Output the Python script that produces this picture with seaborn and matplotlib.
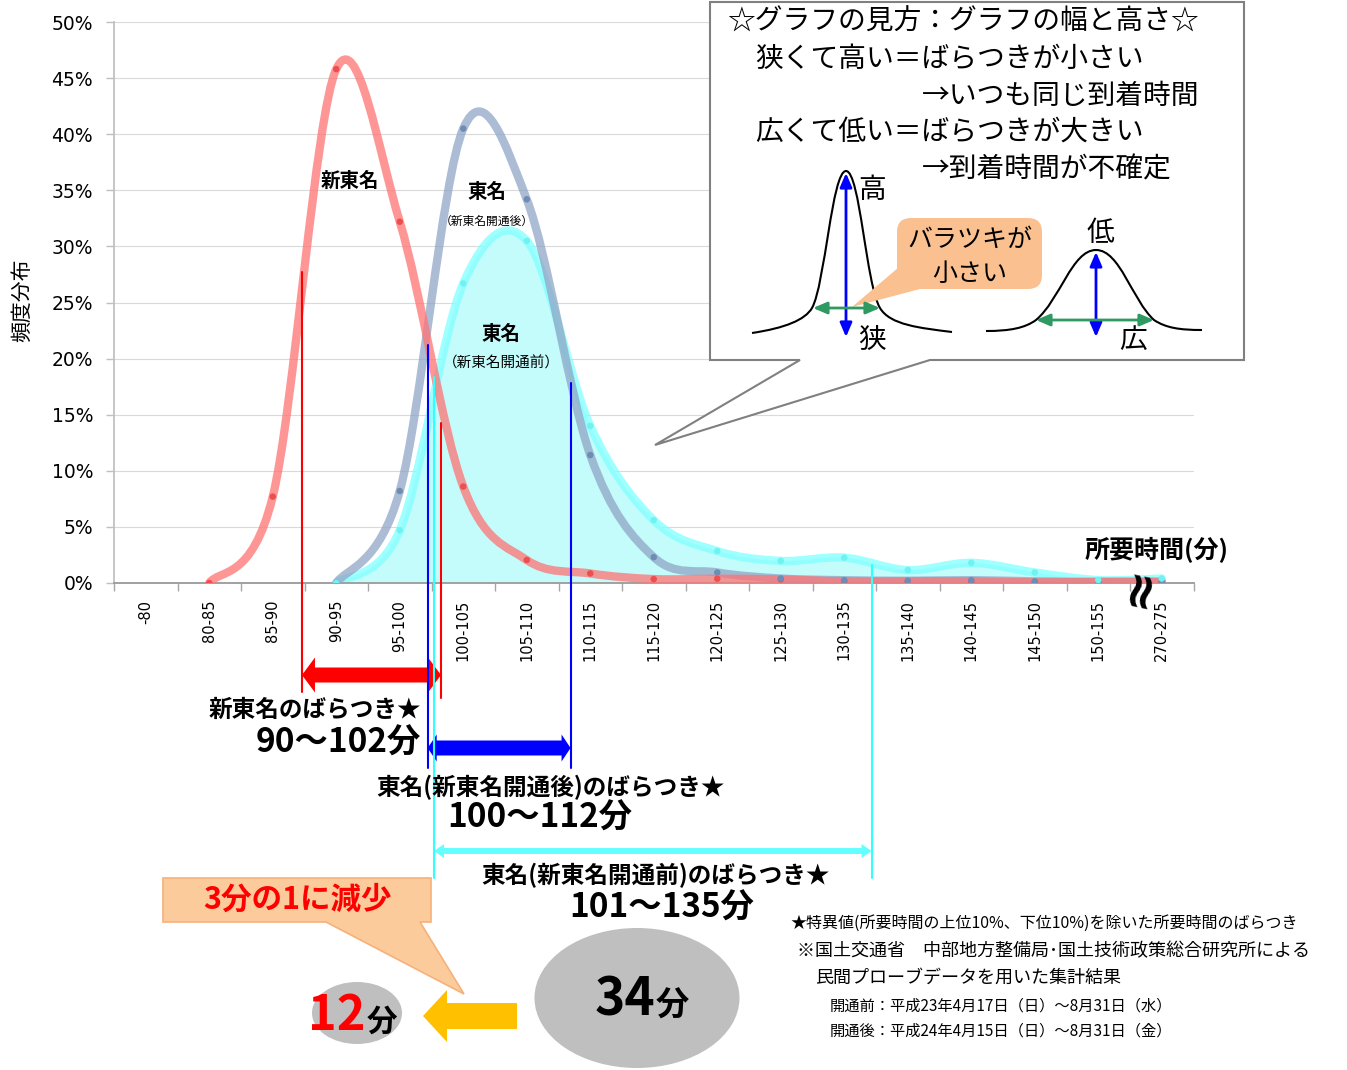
import numpy as np
import pandas as pd
import seaborn as sns
import matplotlib
matplotlib.use("Agg")
import matplotlib.pyplot as plt
from matplotlib.path import Path
from matplotlib.patches import PathPatch, Polygon, Ellipse, FancyBboxPatch
from matplotlib.ticker import PercentFormatter

# travel time frequency distribution (% of trips per 5 minute bin)
categories = ["-80", "80-85", "85-90", "90-95", "95-100", "100-105", "105-110",
              "110-115", "115-120", "120-125", "125-130", "130-135", "135-140",
              "140-145", "145-150", "150-155", "270-275"]
shin_tomei = [np.nan, 0.0, 7.7, 45.8, 32.2, 8.6, 2.05, 0.85, 0.35, 0.38, 0.32,
              0.15, 0.15, 0.15, 0.06, 0.10, 0.12]
tomei_after = [np.nan, np.nan, np.nan, 0.0, 8.2, 40.5, 34.2, 11.4, 2.3, 0.94,
               0.40, 0.25, 0.20, 0.25, 0.15, 0.10, 0.10]
tomei_before = [np.nan, np.nan, np.nan, 0.0, 4.7, 26.7, 30.5, 14.0, 5.6, 2.85,
                1.97, 2.26, 1.15, 1.80, 0.94, 0.26, 0.40]

# spread markers (category units) and the curve height where each line starts
spread_red = [2.46, 4.65]
spread_red_top = [27.7, 14.3]
spread_blue = [4.44, 6.69]
spread_blue_top = [21.2, 17.8]
spread_cyan = [4.54, 11.43]
spread_cyan_top = [18.4, 1.6]

JP = ["Noto Sans CJK JP", "DejaVu Sans"]
W, H = 1347, 1070

sns.set_theme(style="white")
plt.rcParams["font.family"] = ["DejaVu Sans", "Noto Sans CJK JP"]
plt.rcParams["text.color"] = "black"

fig = plt.figure(figsize=(W / 100, H / 100), dpi=100)
ax = fig.add_axes([114 / W, 1 - 583 / H, 1079.5 / W, 561 / H])
ov = fig.add_axes([0, 0, 1, 1], zorder=5)
ov.set_xlim(0, W)
ov.set_ylim(H, 0)
ov.axis("off")

ax.set_xlim(-0.5, len(categories) - 0.5)
ax.set_ylim(0, 50)


def smooth_path(xs, ys):
    # excel-like smoothed line: catmull-rom tangents turned into bezier handles
    p = np.column_stack([xs, ys])
    t = np.empty_like(p)
    t[1:-1] = (p[2:] - p[:-2]) / 2
    t[0] = (p[1] - p[0]) / 2
    t[-1] = (p[-1] - p[-2]) / 2
    verts = [p[0]]
    for i in range(len(p) - 1):
        verts += [p[i] + t[i] / 3, p[i + 1] - t[i + 1] / 3, p[i + 1]]
    codes = [Path.MOVETO] + [Path.CURVE4] * (len(verts) - 1)
    return verts, codes


pos = np.arange(len(categories))
series = {"新東名": shin_tomei, "東名(新東名開通後)": tomei_after, "東名(新東名開通前)": tomei_before}
line_col = {"新東名": "#FF7373", "東名(新東名開通後)": "#8FA6C6", "東名(新東名開通前)": "#80FFFF"}
dot_col = {"新東名": "#EE4E4E", "東名(新東名開通後)": "#6E8CB4", "東名(新東名開通前)": "#70F2F2"}
line_alpha = {"新東名": 0.75, "東名(新東名開通後)": 0.75, "東名(新東名開通前)": 0.75}
line_z = {"新東名": 4, "東名(新東名開通後)": 3, "東名(新東名開通前)": 2}

for name, vals in series.items():
    v = np.array(vals, dtype=float)
    ok = ~np.isnan(v)
    verts, codes = smooth_path(pos[ok], v[ok])
    if name == "東名(新東名開通前)":
        fv = verts + [(pos[ok][-1], 0), (pos[ok][0], 0), (pos[ok][0], 0)]
        fc = codes + [Path.LINETO, Path.LINETO, Path.CLOSEPOLY]
        ax.add_patch(PathPatch(Path(fv, fc), fc="#C4FCFC", ec="none", zorder=1))
    ax.add_patch(PathPatch(Path(verts, codes), fill=False, ec=line_col[name], lw=6,
                           alpha=line_alpha[name], capstyle="round", zorder=line_z[name]))

long = pd.DataFrame({"pos": pos, **series}).melt(id_vars="pos", var_name="series",
                                                  value_name="value").dropna()
sns.scatterplot(data=long, x="pos", y="value", hue="series", palette=dot_col, s=22,
                linewidth=0, legend=False, ax=ax, zorder=6)

# axes styling
ax.set_xticks(pos)
ax.set_xticklabels(categories, rotation=90, fontsize=10.5, color="black")
ax.set_xticks(np.arange(-0.5, len(categories), 1), minor=True)
ax.tick_params(axis="x", which="major", length=0, pad=12)
ax.tick_params(axis="x", which="minor", length=6, color="#A6A6A6", width=1, direction="out", bottom=True)
ax.set_yticks(range(0, 51, 5))
ax.yaxis.set_major_formatter(PercentFormatter(decimals=0))
ax.tick_params(axis="y", length=6, color="#BFBFBF", width=1, direction="out", left=True,
               labelsize=13.5, pad=9, labelcolor="black")
ax.yaxis.grid(True, color="#DADADA", lw=0.8)
ax.set_axisbelow(True)
for s in ["top", "right"]:
    ax.spines[s].set_visible(False)
ax.spines["left"].set_color("#BFBFBF")
ax.spines["bottom"].set_color("#9A9A9A")
ax.spines["bottom"].set_linewidth(1.3)
ax.set_xlabel("")
ax.set_ylabel("頻度分布", family=JP, fontsize=15, color="black")
ax.yaxis.set_label_coords(-0.075, 0.504)


def px(x, y):
    dx, dy = ax.transData.transform((x, y))
    return dx, H - dy


def double_arrow(x0, x1, y, shaft, head_w, head_l, color):
    v = [(x0, y), (x0 + head_l, y - head_w / 2), (x0 + head_l, y - shaft / 2),
         (x1 - head_l, y - shaft / 2), (x1 - head_l, y - head_w / 2), (x1, y),
         (x1 - head_l, y + head_w / 2), (x1 - head_l, y + shaft / 2),
         (x0 + head_l, y + shaft / 2), (x0 + head_l, y + head_w / 2)]
    ov.add_patch(Polygon(v, closed=True, fc=color, ec="none"))


# series labels
ov.text(350, 181, "新東名", family=JP, fontsize=14, fontweight="bold", ha="center", va="center")
ov.text(487, 192, "東名", family=JP, fontsize=14, fontweight="bold", ha="center", va="center")
ov.text(487, 221, "（新東名開通後）", family=JP, fontsize=8.5, ha="center", va="center")
ov.text(501, 334, "東名", family=JP, fontsize=14, fontweight="bold", ha="center", va="center")
ov.text(501, 363, "（新東名開通前）", family=JP, fontsize=10.5, ha="center", va="center")

# spread lines and arrows
for xs, tops, bots, col in [(spread_red, spread_red_top, [692, 698], "#FF0000"),
                            (spread_blue, spread_blue_top, [768, 768], "#0000FF"),
                            (spread_cyan, spread_cyan_top, [878, 878], "#33FFFF")]:
    for x, top, b in zip(xs, tops, bots):
        X, Y = px(x, top)
        ov.plot([X, X], [Y, b], color=col, lw=1.5, zorder=3)

double_arrow(px(spread_red[0], 0)[0], px(spread_red[1], 0)[0], 675, 15, 35, 13, "#FF0000")
double_arrow(px(spread_blue[0], 0)[0], px(spread_blue[1], 0)[0], 748, 15, 27, 9, "#0000FF")
double_arrow(px(spread_cyan[0], 0)[0], px(spread_cyan[1], 0)[0], 851, 6, 14, 10, "#66FFFF")

ov.text(315, 710, "新東名のばらつき★", family=JP, fontsize=17, fontweight="bold", ha="center", va="center")
ov.text(338, 743, "90～102分", family=JP, fontsize=24, fontweight="bold", ha="center", va="center")
ov.text(551, 787, "東名(新東名開通後)のばらつき★", family=JP, fontsize=17, fontweight="bold", ha="center", va="center")
ov.text(540, 818, "100～112分", family=JP, fontsize=24, fontweight="bold", ha="center", va="center")
ov.text(656, 875, "東名(新東名開通前)のばらつき★", family=JP, fontsize=17, fontweight="bold", ha="center", va="center")
ov.text(662, 908, "101～135分", family=JP, fontsize=24, fontweight="bold", ha="center", va="center")

ov.text(1157, 550, "所要時間(分)", family=JP, fontsize=18, fontweight="bold", ha="center", va="center")
ov.text(1140, 587, "≈", family="DejaVu Sans", rotation=78, fontsize=36, fontweight="bold",
        ha="center", va="center")

# explanation callout
ov.add_patch(Polygon([(710, 2), (1244, 2), (1244, 360), (930, 360), (655, 445), (800, 360), (710, 360)],
                     closed=True, fc="white", ec="#808080", lw=1.5, zorder=1))
ov.text(728, 22, "☆グラフの見方：グラフの幅と高さ☆", family=JP, fontsize=20, ha="left", va="center", zorder=2)
ov.text(755, 59, "狭くて高い＝ばらつきが小さい", family=JP, fontsize=20, ha="left", va="center", zorder=2)
ov.text(922, 96, "→いつも同じ到着時間", family=JP, fontsize=20, ha="left", va="center", zorder=2)
ov.text(755, 132, "広くて低い＝ばらつきが大きい", family=JP, fontsize=20, ha="left", va="center", zorder=2)
ov.text(922, 169, "→到着時間が不確定", family=JP, fontsize=20, ha="left", va="center", zorder=2)

C4 = Path.CURVE4
narrow = Path([(752, 333), (785, 328), (805, 320), (812, 308), (825, 285), (832, 171), (846, 171),
               (860, 171), (866, 285), (880, 308), (890, 325), (920, 328), (952, 332)],
              [Path.MOVETO] + [C4] * 12)
wide = Path([(986, 331), (1010, 331), (1025, 328), (1036, 320), (1060, 300), (1072, 250), (1096, 250),
             (1120, 250), (1132, 300), (1154, 320), (1166, 328), (1180, 330), (1202, 330)],
            [Path.MOVETO] + [C4] * 12)
for pth in [narrow, wide]:
    ov.add_patch(PathPatch(pth, fill=False, ec="black", lw=1.5, zorder=2))

arr_b = dict(arrowstyle="<|-|>,head_length=0.7,head_width=0.3", color="#0000FF", lw=2,
             shrinkA=0, shrinkB=0, mutation_scale=12)
arr_g = dict(arrowstyle="<|-|>,head_length=0.7,head_width=0.3", color="#2E9960", lw=2,
             shrinkA=0, shrinkB=0, mutation_scale=12)
ov.annotate("", xy=(846, 173), xytext=(846, 337), arrowprops=arr_b, zorder=3)
ov.annotate("", xy=(813, 308), xytext=(880, 308), arrowprops=arr_g, zorder=3)
ov.annotate("", xy=(1096, 252), xytext=(1096, 337), arrowprops=arr_b, zorder=3)
ov.annotate("", xy=(1036, 320), xytext=(1154, 320), arrowprops=arr_g, zorder=3)
ov.text(858, 190, "高", family=JP, fontsize=20, ha="left", va="center", zorder=2)
ov.text(858, 340, "狭", family=JP, fontsize=20, ha="left", va="center", zorder=2)
ov.text(1100, 233, "低", family=JP, fontsize=20, ha="center", va="center", zorder=2)
ov.text(1119, 340, "広", family=JP, fontsize=20, ha="left", va="center", zorder=2)

ov.add_patch(FancyBboxPatch((897, 218), 145, 71, boxstyle="round,pad=0,rounding_size=14",
                            fc="#FAC090", ec="none", zorder=2))
ov.add_patch(Polygon([(905, 262), (852, 307), (920, 289)], closed=True, fc="#FAC090", ec="none", zorder=2))
ov.text(970, 240, "バラツキが", family=JP, fontsize=18, ha="center", va="center", zorder=3)
ov.text(970, 274, "小さい", family=JP, fontsize=18, ha="center", va="center", zorder=3)

# reduction callout
ov.add_patch(Polygon([(163, 878), (431, 878), (431, 922), (420, 922), (464, 994), (326, 922), (163, 922)],
                     closed=True, fc="#FCCB9C", ec="#F6B07A", lw=1.2))
ov.text(297, 900, "3分の1に減少", family=JP, fontsize=22, fontweight="bold", color="#FF0000",
        ha="center", va="center")
ov.add_patch(Polygon([(423, 1016), (447, 990), (447, 1003), (517, 1003), (517, 1029), (447, 1029), (447, 1042)],
                     closed=True, fc="#FFC000", ec="none"))
ov.add_patch(Ellipse((357, 1013), 90, 62, fc="#BFBFBF", ec="none"))
ov.add_patch(Ellipse((637, 998), 205, 140, fc="#BFBFBF", ec="none"))
ov.text(366, 1016, "12", family=JP, fontsize=35, fontweight="bold", color="#FF0000", ha="right", va="center")
ov.text(367, 1022, "分", family=JP, fontsize=22, fontweight="bold", ha="left", va="center")
ov.text(655, 1000, "34", family=JP, fontsize=37, fontweight="bold", ha="right", va="center")
ov.text(656, 1006, "分", family=JP, fontsize=24, fontweight="bold", ha="left", va="center")

# notes
ov.text(790, 923, "★特異値(所要時間の上位10%、下位10%)を除いた所要時間のばらつき", family=JP, fontsize=11.5,
        ha="left", va="center")
ov.text(797, 951, "※国土交通省　中部地方整備局･国土技術政策総合研究所による", family=JP, fontsize=13,
        ha="left", va="center")
ov.text(815, 978, "民間プローブデータを用いた集計結果", family=JP, fontsize=13, ha="left", va="center")
ov.text(830, 1006, "開通前：平成23年4月17日（日）～8月31日（水）", family=JP, fontsize=11, ha="left", va="center")
ov.text(830, 1031, "開通後：平成24年4月15日（日）～8月31日（金）", family=JP, fontsize=11, ha="left", va="center")

fig.savefig("out.png", dpi=100)
